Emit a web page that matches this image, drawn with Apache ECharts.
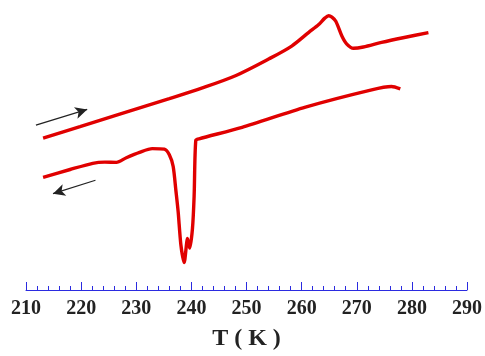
<!DOCTYPE html>
<html>
<head>
<meta charset="utf-8">
<script src="https://cdn.jsdelivr.net/npm/echarts@6/dist/echarts.min.js"></script>
<style>
  html, body { margin: 0; padding: 0; background: #fff; }
  #chart { width: 485px; height: 356px; }
</style>
</head>
<body>
<div id="chart"></div>
<script>
// heating run (T in K, signal in arbitrary units)
const heatingT = [213.1, 219.8, 227.0, 236.0, 242.0, 248.1, 254.1, 258.2, 261.3, 263.1, 264.2, 264.9, 265.5, 266.2, 267.3, 268.2, 269.4, 271.2, 274.5, 278.4, 283.0];
const heatingSignal = [155, 166.7, 179.4, 195.3, 206.3, 219, 236, 249, 263, 271, 277.5, 280, 278.5, 274.3, 259.3, 251, 246.7, 248, 252.7, 257.5, 262.7];

// cooling run
const coolingT = [213.1, 218.0, 222.1, 224.3, 226.4, 228.2, 230.6, 232.9, 235.1, 236.0, 236.7, 237.2, 237.6, 238.1, 238.7, 239.3, 239.7, 240.2, 240.5, 240.8, 241.4, 249.2, 260.7, 272.7, 276.3, 277.9];
const coolingSignal = [115, 123, 129.3, 130.5, 130.3, 135, 140.5, 144.3, 143.7, 138, 126, 101, 80, 46, 28, 52.5, 42.7, 63, 96, 152.7, 154.3, 166, 186.7, 204.3, 207.7, 205.3];

// direction arrows [tailT, tailSignal, tipT, tipSignal]
const heatArrow = [211.8, 168.3, 221.1, 184.3];
const coolArrow = [222.6, 112, 214.9, 98.3];

const tMin = 210;
const tMax = 290;
const tStep = 10;

const pairs = (xs, ys) => xs.map((x, i) => [x, ys[i]]);
const arrowLine = (a) => ({
  type: 'line',
  data: [],
  silent: true,
  markLine: {
    silent: true,
    animation: false,
    label: { show: false },
    lineStyle: { color: '#222', width: 1.2, type: 'solid' },
    symbolSize: [9, 12],
    data: [[
      { coord: [a[0], a[1]], symbol: 'none' },
      { coord: [a[2], a[3]], symbol: 'arrow' },
    ]],
  },
});

const chart = echarts.init(document.getElementById('chart'));
chart.setOption({
  animation: false,
  grid: {
    top: 0,
    left: 26,
    right: 16,
    bottom: 60,
  },
  xAxis: {
    type: 'value',
    min: tMin,
    max: tMax,
    interval: tStep,
    name: 'T ( K )',
    nameLocation: 'middle',
    nameGap: 37,
    nameTextStyle: {
      fontFamily: 'Liberation Serif',
      fontWeight: 'bold',
      fontSize: 24,
      color: '#222',
    },
    axisLine: {
      show: true,
      onZero: false,
      lineStyle: { color: '#2b2be0', width: 1 },
    },
    axisTick: {
      show: true,
      inside: true,
      length: 8,
      lineStyle: { color: '#2b2be0', width: 1 },
    },
    minorTick: {
      show: true,
      splitNumber: 5,
      length: 4,
      lineStyle: { color: '#2b2be0', width: 1 },
    },
    axisLabel: {
      margin: 9,
      fontFamily: 'Liberation Serif',
      fontWeight: 'bold',
      fontSize: 20,
      color: '#222',
    },
    splitLine: { show: false },
  },
  yAxis: {
    type: 'value',
    min: 0,
    max: 296,
    show: false,
  },
  series: [
    {
      name: 'heating',
      type: 'line',
      data: pairs(heatingT, heatingSignal),
      symbol: 'none',
      smooth: 0.3,
      lineStyle: { color: '#e00000', width: 3.4 },
    },
    {
      name: 'cooling',
      type: 'line',
      data: pairs(coolingT, coolingSignal),
      symbol: 'none',
      smooth: 0.25,
      lineStyle: { color: '#e00000', width: 3.4 },
    },
    arrowLine(heatArrow),
    arrowLine(coolArrow),
  ],
});
</script>
</body>
</html>
